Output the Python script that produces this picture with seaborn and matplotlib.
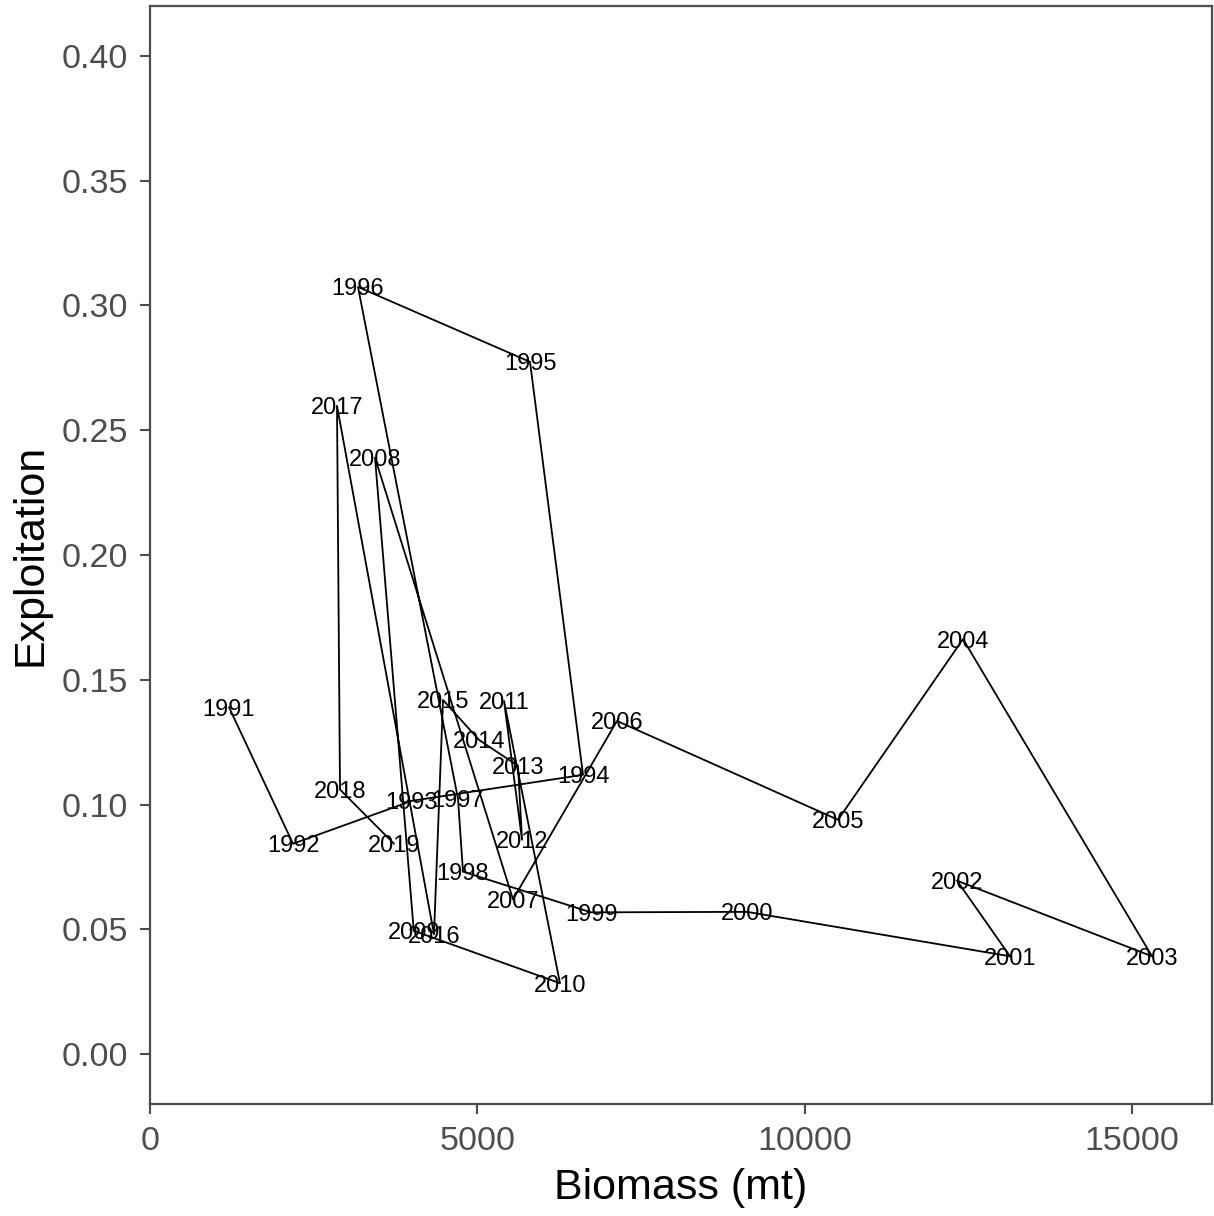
import matplotlib
matplotlib.use("Agg")
import matplotlib.pyplot as plt
import seaborn as sns
import pandas as pd

years = list(range(1991, 2020))
biomass = [1207, 2185, 4003, 6616, 5806, 3178, 4706, 4782, 6738, 9121,
           13140, 12330, 15309, 12422, 10512, 7135, 5546, 3438, 4030, 6264,
           5409, 5684, 5623, 5027, 4477, 4339, 2857, 2903, 3728]
exploitation = [0.139, 0.0843, 0.1015, 0.1119, 0.2774, 0.3074, 0.1023, 0.0731, 0.0568, 0.0570,
                0.0392, 0.0695, 0.0392, 0.1663, 0.0939, 0.1335, 0.0620, 0.239, 0.0494, 0.0284,
                0.1415, 0.0859, 0.1155, 0.1259, 0.1419, 0.0480, 0.2598, 0.1060, 0.0843]

df = pd.DataFrame({"Year": years, "Biomass": biomass, "Exploitation": exploitation})

sns.set_theme(style="white")
plt.rcParams['font.family'] = ['Liberation Sans', 'DejaVu Sans']

fig = plt.figure(figsize=(12.14, 12.16), dpi=100)
ax = fig.add_axes([150/1214, 1 - 1104/1216, (1212-150)/1214, (1104-6)/1216])

sns.lineplot(data=df, x="Biomass", y="Exploitation", sort=False, estimator=None,
             color="black", linewidth=1.3, ax=ax)
for yr, bx, ey in zip(years, biomass, exploitation):
    ax.text(bx, ey, str(yr), ha="center", va="center_baseline", fontsize=17, color="black")

ax.set_xlim(0, 16226)
ax.set_ylim(-0.02, 0.42)
ax.set_xticks([0, 5000, 10000, 15000])
ax.set_xticklabels(["0", "5000", "10000", "15000"])
ax.set_yticks([0, 0.05, 0.10, 0.15, 0.20, 0.25, 0.30, 0.35, 0.40])
ax.set_yticklabels(["0.00", "0.05", "0.10", "0.15", "0.20", "0.25", "0.30", "0.35", "0.40"])
ax.tick_params(axis="both", which="both", length=7, width=1.5, color="#4d4d4d",
               labelsize=24.5, labelcolor="#4d4d4d", direction="out",
               bottom=True, left=True)
ax.tick_params(axis="x", pad=9)
ax.tick_params(axis="y", pad=9)
for s in ax.spines.values():
    s.set_visible(True)
    s.set_color("#4d4d4d")
    s.set_linewidth(1.6)
ax.grid(False)
ax.set_xlabel("Biomass (mt)", fontsize=31, color="black", labelpad=8)
ax.set_ylabel("Exploitation", fontsize=31, color="black", labelpad=8)

fig.savefig("out.png", dpi=100)
